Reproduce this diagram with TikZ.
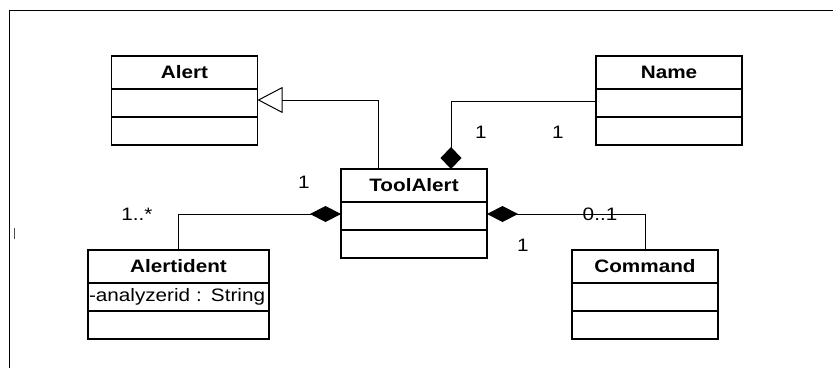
\documentclass[tikz,border=0pt]{standalone}
\usepackage{fontspec}
\setmainfont{Liberation Sans}[FakeStretch=1.15]
\usetikzlibrary{positioning,arrows.meta}

\tikzset{
    cls/.style={draw, line width=1.2pt, outer sep=0pt, minimum width=146pt, minimum height=33pt, inner sep=0pt, font=\fontsize{18}{20}\selectfont\bfseries},
    part/.style={draw, line width=1.2pt, outer sep=0pt, minimum width=146pt, minimum height=28pt, inner sep=0pt},
    assoc/.style={line width=1pt},
    comp/.style={assoc, {Diamond[length=31pt,width=16pt]}-},
}

\begin{document}
\begin{tikzpicture}[x=1pt, y=-1pt, font=\fontsize{18}{20}\selectfont]
        \useasboundingbox (0,0) rectangle (833,368);
        \draw[line width=1.5pt] (9.5,368) |- (833,10.3);
        \draw[gray!60!black, line width=1pt] (14.7,228) -- (14.7,239);

        % classes
        \node[cls] (alert) at (184.5,72.5) {Alert};
        \node[part, below=0pt of alert] (alert1) {};
        \node[part, below=0pt of alert1] (alert2) {};

        \node[cls] (name) at (669,72.5) {Name};
        \node[part, below=0pt of name] (name1) {};
        \node[part, below=0pt of name1] (name2) {};

        \node[cls] (tool) at (414,185.5) {ToolAlert};
        \node[part, below=0pt of tool] (tool1) {};
        \node[part, below=0pt of tool1] (tool2) {};

        \node[cls, minimum width=181pt] (ident) at (178.5,266.5) {Alertident};
        \node[part, minimum width=181pt, text width=179pt, inner xsep=1pt, align=left, below=0pt of ident] (ident1) {-analyzerid : String};
        \node[part, minimum width=181pt, below=0pt of ident1] (ident2) {};

        \node[cls] (cmd) at (645,266.5) {Command};
        \node[part, below=0pt of cmd] (cmd1) {};
        \node[part, below=0pt of cmd1] (cmd2) {};

        % generalization and compositions
        \draw[assoc, -{Triangle[open, length=25pt, width=26pt]}] ([xshift=-36pt]tool.north) |- ([yshift=3pt]alert1.east);
        \draw[assoc, {Diamond[length=22pt,width=21pt]}-] ([xshift=37pt]tool.north) |- ([yshift=2pt]name1.west);
        \draw[comp] ([yshift=2pt]tool1.west) -| (ident.north);
        \draw[comp] ([yshift=2pt]tool1.east) -| (cmd.north);

        % multiplicities
        \node (m1) at (481,132) {1};
        \node (m2) at (558,132) {1};
        \node (m3) at (304,182) {1};
        \node (m4) at (137,214) {1..*};
        \node (m5) at (600,214) {0..1};
        \node (m6) at (523,245) {1};
\end{tikzpicture}
\end{document}
